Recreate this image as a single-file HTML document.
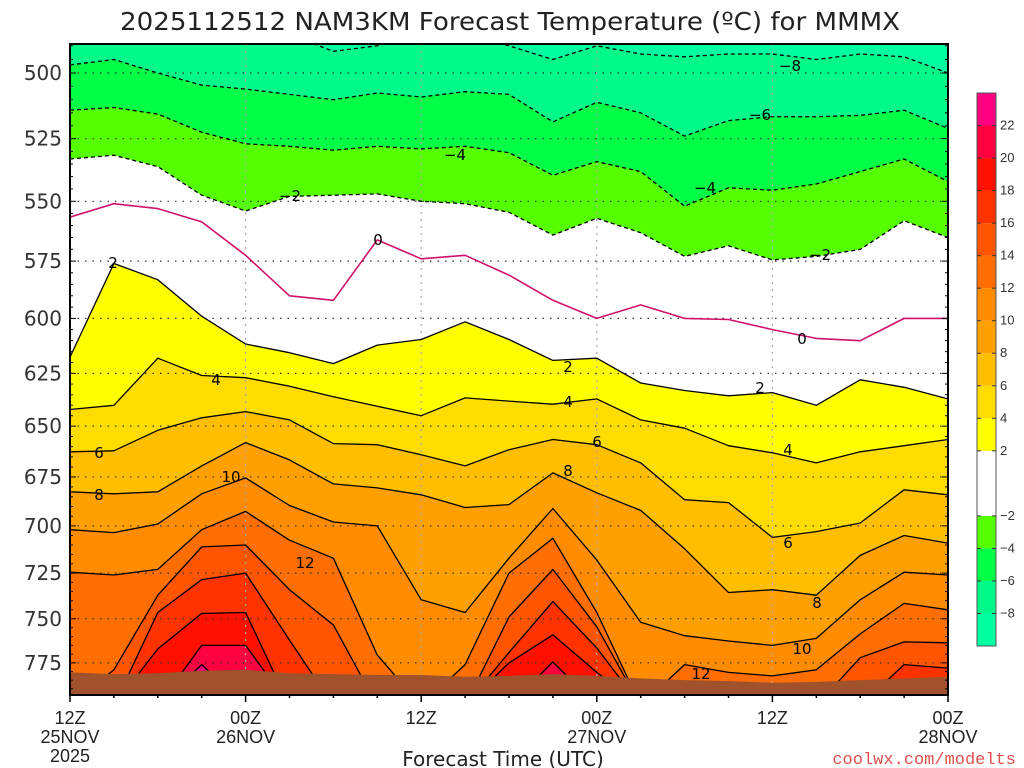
<!DOCTYPE html>
<html><head><meta charset="utf-8">
<style>
html,body{margin:0;padding:0;background:#fff;}
svg{display:block;font-family:"Liberation Sans",sans-serif;}
</style></head>
<body>
<svg id="chart" width="1024" height="768" viewBox="0 0 1024 768" xmlns="http://www.w3.org/2000/svg">
<defs><clipPath id="plotclip"><rect x="70" y="44" width="878" height="651"/></clipPath></defs>
<text x="120" y="30" font-size="25" fill="#222" font-family="DejaVu Sans, sans-serif" textLength="780" lengthAdjust="spacingAndGlyphs">2025112512 NAM3KM Forecast Temperature (ºC) for MMMX</text>
<g id="plot" clip-path="url(#plotclip)"></g>
<g id="overlay"></g>
<text x="503" y="766" text-anchor="middle" font-size="20" fill="#222" font-family="DejaVu Sans, sans-serif">Forecast Time (UTC)</text>
<text x="1016" y="764" text-anchor="end" font-size="17" fill="#e05050" font-family="Liberation Mono, monospace">coolwx.com/modelts</text>
</svg>
<script>
// ---- data (pressure in hPa of each isotherm at forecast hour) ----
const hours = [0,3,6,9,12,15,18,21,24,27,30,33,36,39,42,45,48,51,54,57,60];
const isoM8 = [486,486,486,486,486,486,492,490,486,486,490,495,490,493,494,493,493,495,493,494,500];
const isoM6 = [497,495,500,504.5,506,508,510,507.5,509,507,508,518.5,511,515,524,518,516.5,516.5,516,514,521];
const isoM4 = [514,513,515.5,522.5,527,528,529.5,528,529,528,530.5,539.5,534,538,552,544.5,545.5,543,538,533,542];
const isoM2 = [533,531.5,536,547.5,554,548,547.5,547,550,551,554.5,564,557,563,573,568.5,574.5,573,570,558,565];
const iso0  = [556.5,551,553,558.5,572.5,590,592,566,574,572.5,581,592,600,594,600,600.5,605,609,610,600,600];
const iso2  = [617.5,576,583,599,611.5,615.5,620.5,612,609.5,601.5,609.5,619,618,629.5,633,635.5,634,640,628,631.5,637];
const iso4  = [642,640,618,626,627,631,636,640.5,645,636.5,638,639.5,637,647,651,659.5,663,668,662.5,659.5,656.5];
const iso6  = [662.5,662,652,646,643,647,658.5,659,664,669.5,661.5,656.5,659,668,686.5,688,706,703,698.5,681.5,684];
const iso8  = [682.5,683.5,682.5,669.5,658,666.5,678.5,680.5,684,690.5,689,673,683,692,712,735.5,734,737,715.5,705,709];
const iso10 = [702,703.5,699,683.5,675.5,689.5,698,700,739.5,746.5,717,691,718,752,759.5,762.5,765,761,739.5,724.5,726];
const iso12 = [724.5,726,723,702,692.5,707.5,717,770.5,800,776,725,706.5,746.5,800,776,780.5,782.5,779,758.5,741.5,745];
const iso14 = [800,779,737,711,710,734,753.5,800,800,800,749,723,754.5,800,800,800,800,800,772,763,763.5];
const iso16 = [800,800,746.5,728.5,725,762,800,800,800,800,769,740.5,766.5,800,800,800,800,800,800,776,778];
const iso18 = [800,800,767,747,746.5,800,800,800,800,800,775,759,780.5,800,800,800,800,800,800,800,800];
const iso20 = [800,800,800,765,765,800,800,800,800,800,800,774.5,800,800,800,800,800,800,800,800,800];
const iso22 = [800,800,800,776,800,800,800,800,800,800,800,800,800,800,800,800,800,800,800,800,800];
const surfaceP = [780.5,781.5,781,779.5,779,781,781.5,782,782,783,782.5,781.5,782.5,784,785,785.5,786.5,786,785,784,783];
const pTicks = [500,525,550,575,600,625,650,675,700,725,750,775];
const xTickHours = [0,12,24,36,48,60];
const xTickLine1 = ["12Z","00Z","12Z","00Z","12Z","00Z"];
const xTickLine2 = ["25NOV","26NOV","","27NOV","","28NOV"];
const xTickLine3 = ["2025","","","","",""];
const cbarLevels = [-10,-8,-6,-4,-2,2,4,6,8,10,12,14,16,18,20,22,24];
const cbarLabels = ["-8","-6","-4","-2","2","4","6","8","10","12","14","16","18","20","22"];
const isoLevels = [-8,-6,-4,-2,2,4,6,8,10,12,14,16,18,20,22];
const contourLabels = [["-8",790,66],["-6",760,115],["-4",455,155],["-4",705,188],["-2",290,196],["-2",820,255],["0",378,240],["0",802,339],["2",113,263],["2",568,367],["2",760,388],["4",216,380],["4",568,402],["4",788,450],["6",99,453],["6",597,442],["6",788,543],["8",99,495],["8",568,471],["8",817,603],["10",231,477],["10",802,649],["12",305,563],["12",701,674]];

// ---- scales ----
const X0=70, X1=948, Y0=44, Y1=695;
const xs = h => X0 + h*(X1-X0)/60;
const ys = p => 73 + 1346*Math.log(p/500);
const NS="http://www.w3.org/2000/svg";
function mk(tag, attrs, parent){const e=document.createElementNS(NS,tag);for(const k in attrs)e.setAttribute(k,attrs[k]);parent.appendChild(e);return e;}

const plot=document.getElementById('plot');
const ov=document.getElementById('overlay');
const bandColor = ["#00ffa0","#00fa8a","#00ff46","#55ff00","#ffffff","#ffff00","#ffdc00","#ffbe00","#ffa000","#ff8c00","#ff6e00","#ff5500","#ff3300","#ff1000","#ff0040","#ff0080"];
const isoLines=[isoM8,isoM6,isoM4,isoM2,iso2,iso4,iso6,iso8,iso10,iso12,iso14,iso16,iso18,iso20,iso22];

function linePts(arr){return hours.map((h,i)=>xs(h).toFixed(1)+","+ys(arr[i]).toFixed(1));}

let bg=mk('rect',{x:X0,y:Y0,width:X1-X0,height:Y1-Y0,fill:bandColor[0]},plot);


isoLines.forEach((arr,i)=>{
  const pts=linePts(arr).concat([X1+","+(Y1+5),X0+","+(Y1+5)]);
  const poly=mk('polygon',{points:pts.join(" "),fill:bandColor[i+1]},plot);
  
  
});
pTicks.forEach(p=>{
  const g=mk('line',{x1:X0,x2:X1,y1:ys(p),y2:ys(p),stroke:"#333","stroke-width":1.2,"stroke-dasharray":"1.5,6"},plot);
  
  
});
xTickHours.slice(1,-1).forEach(h=>{
  const g=mk('line',{x1:xs(h),x2:xs(h),y1:Y0,y2:Y1,stroke:"#aaa","stroke-width":1.2,"stroke-dasharray":"2,5"},plot);
  
  
});
isoLines.forEach((arr,i)=>{
  const neg=isoLevels[i]<0;
  const pl=mk('polyline',{points:linePts(arr).join(" "),fill:"none",stroke:"#000","stroke-width":1.3,"stroke-dasharray":neg?"4,3":"none","stroke-linejoin":"round"},plot);
  
  
});
const zl=mk('polyline',{points:linePts(iso0).join(" "),fill:"none",stroke:"#d0106a","stroke-width":1.6,"stroke-linejoin":"round"},plot);


const gpts=linePts(surfaceP).concat([X1+","+(Y1+5),X0+","+(Y1+5)]);
const gr=mk('polygon',{points:gpts.join(" "),fill:"#a0522d"},plot);


contourLabels.forEach(c=>{
  const t=mk('text',{x:c[1],y:c[2]+5,"text-anchor":"middle","font-size":15,fill:"#000","font-family":"DejaVu Sans, sans-serif"},plot);
  t.textContent=c[0].replace("-","\u2212");
  
  
});
const fr=mk('rect',{x:X0,y:Y0,width:X1-X0,height:Y1-Y0,fill:"none",stroke:"#000","stroke-width":2},ov);


for(let p=490;p<=790;p+=5){
  if(ys(p)<Y0||ys(p)>Y1)continue;
  const major=p%25===0;
  mk('line',{x1:X0,x2:X0+(major?6:3),y1:ys(p),y2:ys(p),stroke:"#000","stroke-width":1},ov);
  mk('line',{x1:X1,x2:X1-(major?6:3),y1:ys(p),y2:ys(p),stroke:"#000","stroke-width":1},ov);
}
pTicks.forEach(p=>{
  const t=mk('text',{x:62,y:ys(p)+7,"text-anchor":"end","font-size":20,fill:"#333","font-family":"DejaVu Sans, sans-serif"},ov);
  t.textContent=p;
  
  
});
for(let h=0;h<=60;h+=3){
  const major=h%12===0;
  mk('line',{x1:xs(h),x2:xs(h),y1:Y1,y2:Y1+(major?7:3),stroke:"#000","stroke-width":1.5},ov);
}
xTickHours.forEach((h,i)=>{
  [xTickLine1[i],xTickLine2[i],xTickLine3[i]].forEach((s,j)=>{
    if(!s)return;
    const t=mk('text',{x:xs(h),y:724+j*19,"text-anchor":"middle","font-size":18,fill:"#222"},ov);
    t.textContent=s;
    
    
  });
});
const CB_X=977, CB_W=19, CB_T=93, CB_B=646;
const cbs = v => CB_B - (v-cbarLevels[0])*(CB_B-CB_T)/(cbarLevels[cbarLevels.length-1]-cbarLevels[0]);
for(let i=0;i<cbarLevels.length-1;i++){
  const r=mk('rect',{x:CB_X,y:cbs(cbarLevels[i+1]),width:CB_W,height:cbs(cbarLevels[i])-cbs(cbarLevels[i+1]),fill:bandColor[i]},ov);
  
  
}
mk('rect',{x:CB_X,y:CB_T,width:CB_W,height:CB_B-CB_T,fill:"none",stroke:"#555","stroke-width":1},ov);
cbarLabels.forEach(l=>{
  const v=parseFloat(l);
  mk('line',{x1:CB_X,x2:CB_X+4,y1:cbs(v),y2:cbs(v),stroke:"#333","stroke-width":1},ov);
  mk('line',{x1:CB_X+CB_W,x2:CB_X+CB_W-4,y1:cbs(v),y2:cbs(v),stroke:"#333","stroke-width":1},ov);
  const t=mk('text',{x:1000,y:cbs(v)+4,"font-size":13,fill:"#333"},ov);
  t.textContent=l.replace("-","\u2212");
  
  
});
</script>
</body></html>
